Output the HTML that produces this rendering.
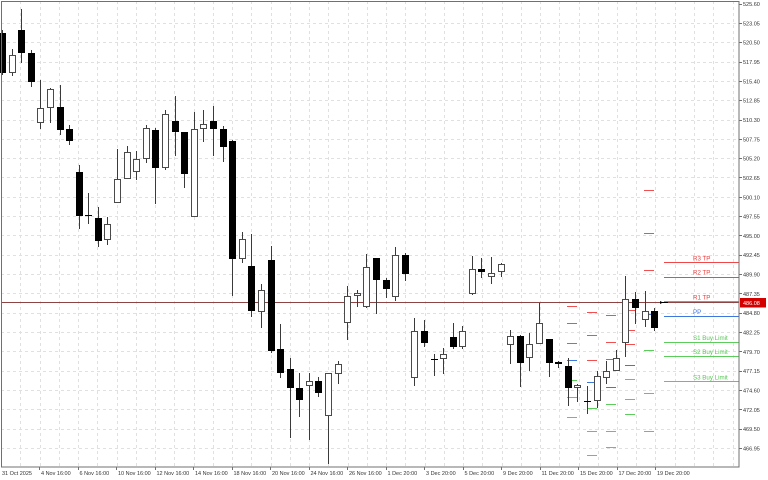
<!DOCTYPE html>
<html><head><meta charset="utf-8"><style>
html,body{margin:0;padding:0;background:#fff;}
svg{display:block;}
text{font-family:"Liberation Sans",sans-serif;}
</style></head><body>
<svg width="768" height="480" viewBox="0 0 768 480" xmlns="http://www.w3.org/2000/svg">
<rect width="768" height="480" fill="#fff"/>
<!-- grid -->
<g stroke="#e0e0e0" stroke-width="1" stroke-dasharray="3,3" fill="none">
<path d="M1 23.5H739M1 42.5H739M1 62.5H739M1 81.5H739M1 100.5H739M1 120.5H739M1 139.5H739M1 158.5H739M1 177.5H739M1 197.5H739M1 216.5H739M1 235.5H739M1 255.5H739M1 274.5H739M1 293.5H739M1 313.5H739M1 332.5H739M1 351.5H739M1 371.5H739M1 390.5H739M1 409.5H739M1 429.5H739M1 448.5H739"/>
<path d="M20.5 1V467M40.5 1V467M59.5 1V467M78.5 1V467M97.5 1V467M117.5 1V467M136.5 1V467M155.5 1V467M174.5 1V467M194.5 1V467M213.5 1V467M232.5 1V467M251.5 1V467M271.5 1V467M290.5 1V467M309.5 1V467M328.5 1V467M348.5 1V467M367.5 1V467M386.5 1V467M405.5 1V467M425.5 1V467M444.5 1V467M463.5 1V467M482.5 1V467M502.5 1V467M521.5 1V467M540.5 1V467M559.5 1V467M579.5 1V467M598.5 1V467M617.5 1V467M636.5 1V467M655.5 1V467M675.5 1V467M694.5 1V467M713.5 1V467M733.5 1V467"/>
</g>
<!-- pivot dashes -->
<g stroke-width="1" fill="none">
<path stroke="#f05050" d="M567 306.5H577M567 323.5H577M567 343.5H577M587 312.5H597M587 335.5H597M587 360.5H597M606 315.5H616M606 342.5H616M606 359.5H616M625 310.5H635M625 330.5H635M625 344.5H635M644 190.5H654M644 233.5H654M644 270.5H654"/>
<path stroke="#3f78dc" d="M567 360.5H577M587 382.5H597M606 387.5H616M625 365.5H635M644 314.5H654"/>
<path stroke="#5ccd5c" d="M567 380.5H577M567 397.5H577M567 417.5H577M587 408.5H597M587 431.5H597M587 455.5H597M606 404.5H616M606 431.5H616M606 447.5H616M625 379.5H635M625 399.5H635M625 414.5H635M644 350.5H654M644 393.5H654M644 431.5H654"/>
</g>
<!-- current pivot lines -->
<g fill="none">
<path stroke="#f04848" stroke-width="1" d="M664 262.5H739M664 277.5H739"/>
<path stroke="#f07070" stroke-width="2" d="M664 302H739"/>
<path stroke="#3f78dc" stroke-width="1" d="M664 316.5H739"/>
<path stroke="#5ccd5c" stroke-width="1" d="M664 342.5H739M664 356.5H739M664 381.5H739"/>
</g>
<!-- price line -->
<path d="M1 302.5H739" stroke="#8c4444" stroke-width="1" fill="none"/>
<!-- wicks -->
<g stroke="#3a3a3a" stroke-width="1" fill="none">
<path d="M2.5 30V75M12.5 49V76M21.5 9V63M31.5 50V87M40.5 80V129M50.5 88V123M60.5 85V135M69.5 125V145M79.5 165V229M88.5 193V224M98.5 207V247M107.5 217V245M117.5 149V203M127.5 146V179M136.5 151V180M146.5 125V163M155.5 128V204M165.5 110V170M175.5 96V156M184.5 132V188M194.5 112V217M203.5 110V142M213.5 106V156M223.5 126V162M232.5 140V296M242.5 232V263M251.5 234V317M261.5 284V328M271.5 246V353M280.5 324V378M290.5 358V438M299.5 373V417M309.5 373V440M318.5 377V397M328.5 373V464M338.5 361V384M347.5 286V340M357.5 290V307M366.5 254V308M376.5 258V314M386.5 278V298M395.5 247V301M405.5 253V281M414.5 318V386M424.5 320V347M434.5 354V376M443.5 348V374M453.5 323V349M462.5 326V349M472.5 256V295M481.5 258V278M491.5 257V284M501.5 263V277M510.5 330V364M520.5 335V387M529.5 333V371M539.5 303V344M549.5 339V377M558.5 361V368M568.5 358V406M577.5 384V402M587.5 386V414M597.5 371V408M606.5 361V384M616.5 350V371M625.5 276V357M635.5 292V324M645.5 291V327M654.5 308V331"/>
</g>
<!-- white bodies -->
<g fill="#fff" stroke="#4a4a4a" stroke-width="1">
<rect x="9.5" y="55.5" width="6" height="17"/>
<rect x="37.5" y="108.5" width="6" height="14"/>
<rect x="47.5" y="89.5" width="6" height="18"/>
<rect x="104.5" y="224.5" width="6" height="15"/>
<rect x="114.5" y="179.5" width="6" height="23"/>
<rect x="124.5" y="152.5" width="6" height="26"/>
<rect x="133.5" y="159.5" width="6" height="12"/>
<rect x="143.5" y="128.5" width="6" height="30"/>
<rect x="162.5" y="114.5" width="6" height="53"/>
<rect x="191.5" y="129.5" width="6" height="87"/>
<rect x="200.5" y="124.5" width="6" height="4"/>
<rect x="239.5" y="239.5" width="6" height="19"/>
<rect x="258.5" y="290.5" width="6" height="21"/>
<rect x="306.5" y="381.5" width="6" height="4"/>
<rect x="325.5" y="373.5" width="6" height="42"/>
<rect x="335.5" y="364.5" width="6" height="9"/>
<rect x="344.5" y="296.5" width="6" height="26"/>
<rect x="354.5" y="293.5" width="6" height="2"/>
<rect x="363.5" y="267.5" width="6" height="39"/>
<rect x="392.5" y="255.5" width="6" height="41"/>
<rect x="411.5" y="331.5" width="6" height="46"/>
<rect x="440.5" y="354.5" width="6" height="4"/>
<rect x="459.5" y="331.5" width="6" height="15"/>
<rect x="469.5" y="269.5" width="6" height="24"/>
<rect x="488.5" y="273.5" width="6" height="3"/>
<rect x="498.5" y="264.5" width="6" height="7"/>
<rect x="507.5" y="336.5" width="6" height="8"/>
<rect x="526.5" y="344.5" width="6" height="13"/>
<rect x="536.5" y="323.5" width="6" height="20"/>
<rect x="574.5" y="385.5" width="6" height="2"/>
<rect x="594.5" y="376.5" width="6" height="24"/>
<rect x="603.5" y="371.5" width="6" height="6"/>
<rect x="613.5" y="358.5" width="6" height="12"/>
<rect x="622.5" y="299.5" width="6" height="43"/>
<rect x="642.5" y="311.5" width="6" height="8"/>
</g>
<!-- black bodies -->
<g fill="#000">
<rect x="-1" y="33" width="7" height="40"/>
<rect x="18" y="30" width="7" height="23"/>
<rect x="28" y="53" width="7" height="29"/>
<rect x="57" y="107" width="7" height="23"/>
<rect x="66" y="129" width="7" height="12"/>
<rect x="76" y="172" width="7" height="44"/>
<rect x="85" y="215" width="7" height="1"/>
<rect x="95" y="218" width="7" height="23"/>
<rect x="152" y="130" width="7" height="38"/>
<rect x="172" y="121" width="7" height="11"/>
<rect x="181" y="132" width="7" height="42"/>
<rect x="210" y="121" width="7" height="8"/>
<rect x="220" y="129" width="7" height="18"/>
<rect x="229" y="141" width="7" height="118"/>
<rect x="248" y="266" width="7" height="45"/>
<rect x="268" y="260" width="7" height="91"/>
<rect x="277" y="349" width="7" height="24"/>
<rect x="287" y="369" width="7" height="19"/>
<rect x="296" y="388" width="7" height="12"/>
<rect x="315" y="381" width="7" height="12"/>
<rect x="373" y="258" width="7" height="22"/>
<rect x="383" y="280" width="7" height="9"/>
<rect x="402" y="255" width="7" height="19"/>
<rect x="421" y="331" width="7" height="12"/>
<rect x="431" y="359" width="7" height="1"/>
<rect x="450" y="337" width="7" height="10"/>
<rect x="478" y="269" width="7" height="3"/>
<rect x="517" y="336" width="7" height="27"/>
<rect x="546" y="339" width="7" height="24"/>
<rect x="555" y="362" width="7" height="2"/>
<rect x="565" y="366" width="7" height="22"/>
<rect x="584" y="401" width="7" height="1"/>
<rect x="632" y="299" width="7" height="9"/>
<rect x="651" y="311" width="7" height="17"/>
</g>
<!-- current price marker -->
<path d="M660 302.5H668" stroke="#000" stroke-width="1"/>
<path d="M660 301L663 302.5L660 304Z" fill="#000"/>
<!-- frame -->
<rect x="1.5" y="1.5" width="737.5" height="465.5" fill="none" stroke="#707070" stroke-width="1"/>
<!-- ticks -->
<g stroke="#707070" stroke-width="1">
<path d="M739 4.5H742M739 23.5H742M739 42.5H742M739 62.5H742M739 81.5H742M739 100.5H742M739 120.5H742M739 139.5H742M739 158.5H742M739 177.5H742M739 197.5H742M739 216.5H742M739 235.5H742M739 255.5H742M739 274.5H742M739 293.5H742M739 313.5H742M739 332.5H742M739 351.5H742M739 371.5H742M739 390.5H742M739 409.5H742M739 429.5H742M739 448.5H742"/>
<path d="M39.5 467V470M78.5 467V470M116.5 467V470M155.5 467V470M193.5 467V470M232.5 467V470M270.5 467V470M309.5 467V470M347.5 467V470M386.5 467V470M424.5 467V470M463.5 467V470M501.5 467V470M540.5 467V470M578.5 467V470M617.5 467V470M655.5 467V470"/>
</g>
<!-- right axis labels -->
<g font-size="5.5" fill="#333">
<text x="743" y="6">525.60</text>
<text x="743" y="25.3">523.05</text>
<text x="743" y="44.7">520.50</text>
<text x="743" y="64">517.95</text>
<text x="743" y="83.3">515.40</text>
<text x="743" y="102.6">512.85</text>
<text x="743" y="122">510.30</text>
<text x="743" y="141.3">507.75</text>
<text x="743" y="160.6">505.20</text>
<text x="743" y="179.9">502.65</text>
<text x="743" y="199.3">500.10</text>
<text x="743" y="218.6">497.55</text>
<text x="743" y="237.9">495.00</text>
<text x="743" y="257.2">492.45</text>
<text x="743" y="276.6">489.90</text>
<text x="743" y="295.9">487.35</text>
<text x="743" y="315.2">484.80</text>
<text x="743" y="334.5">482.25</text>
<text x="743" y="353.9">479.70</text>
<text x="743" y="373.2">477.15</text>
<text x="743" y="392.5">474.60</text>
<text x="743" y="411.8">472.05</text>
<text x="743" y="431.2">469.50</text>
<text x="743" y="450.5">466.95</text>
</g>
<rect x="740" y="298" width="26" height="9.5" fill="#d40000"/>
<text x="743" y="305" font-size="5.5" fill="#fff">486.08</text>
<!-- bottom labels -->
<g font-size="5.5" fill="#333">
<text x="2" y="475">31 Oct 2025</text>
<text x="41" y="475">4 Nov 16:00</text>
<text x="79.5" y="475">6 Nov 16:00</text>
<text x="118" y="475">10 Nov 16:00</text>
<text x="156.5" y="475">12 Nov 16:00</text>
<text x="195" y="475">14 Nov 16:00</text>
<text x="233.5" y="475">18 Nov 16:00</text>
<text x="272" y="475">20 Nov 16:00</text>
<text x="310.5" y="475">24 Nov 16:00</text>
<text x="349" y="475">26 Nov 16:00</text>
<text x="387.5" y="475">1 Dec 20:00</text>
<text x="426" y="475">3 Dec 20:00</text>
<text x="464.5" y="475">5 Dec 20:00</text>
<text x="503" y="475">9 Dec 20:00</text>
<text x="541.5" y="475">11 Dec 20:00</text>
<text x="580" y="475">15 Dec 20:00</text>
<text x="618.5" y="475">17 Dec 20:00</text>
<text x="657" y="475">19 Dec 20:00</text>
</g>
<!-- pivot labels -->
<g font-size="6.2">
<text x="693" y="260.3" fill="#f04040">R3 TP</text>
<text x="693" y="274.5" fill="#f04040">R2 TP</text>
<text x="693" y="299.5" fill="#f04040">R1 TP</text>
<text x="693" y="314" fill="#3f78dc">PP</text>
<text x="693" y="340" fill="#55c855">S1 Buy Limit</text>
<text x="693" y="354" fill="#55c855">S2 Buy Limit</text>
<text x="693" y="379.5" fill="#55c855">S3 Buy Limit</text>
</g>
</svg>
</body></html>
